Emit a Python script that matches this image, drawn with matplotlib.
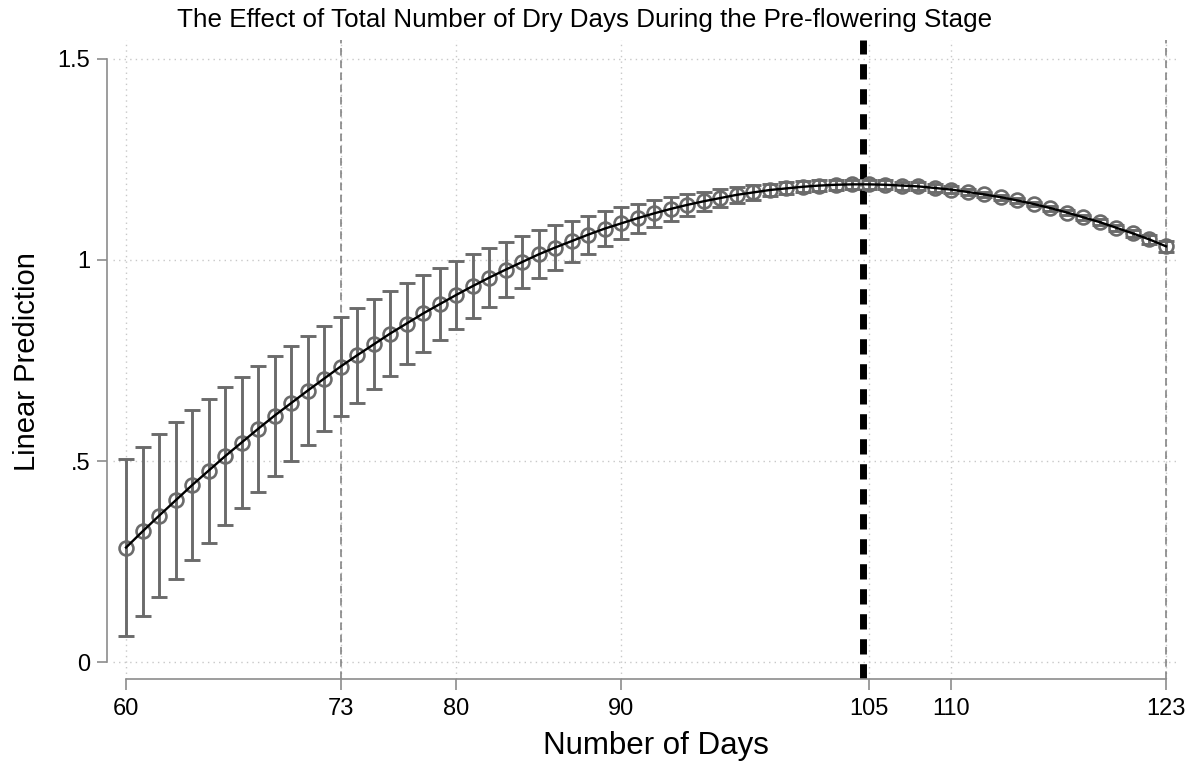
import numpy as np
import matplotlib
matplotlib.use("Agg")
import matplotlib.pyplot as plt

plt.rcParams['font.family'] = ['Liberation Sans', 'DejaVu Sans']

# Margins at each day of dry spell (pre-flowering stage)
days = list(range(60, 124))
pred = [0.285, 0.325, 0.364, 0.402, 0.440, 0.476, 0.512, 0.546, 0.580, 0.613,
        0.644, 0.675, 0.705, 0.735, 0.763, 0.790, 0.817, 0.842, 0.867, 0.890,
        0.913, 0.935, 0.956, 0.976, 0.995, 1.014, 1.031, 1.047, 1.063, 1.078,
        1.091, 1.104, 1.116, 1.127, 1.137, 1.146, 1.154, 1.162, 1.168, 1.174,
        1.178, 1.182, 1.185, 1.187, 1.188, 1.188, 1.187, 1.185, 1.183, 1.179,
        1.175, 1.169, 1.163, 1.156, 1.148, 1.139, 1.129, 1.118, 1.106, 1.094,
        1.080, 1.066, 1.051, 1.034]
# half width of the 95% CI
ci = [0.220, 0.211, 0.203, 0.195, 0.187, 0.179, 0.171, 0.164, 0.156, 0.149,
      0.143, 0.136, 0.130, 0.124, 0.118, 0.112, 0.106, 0.100, 0.095, 0.089,
      0.084, 0.079, 0.074, 0.069, 0.064, 0.060, 0.055, 0.051, 0.047, 0.043,
      0.040, 0.036, 0.033, 0.030, 0.027, 0.024, 0.022, 0.020, 0.018, 0.016,
      0.015, 0.014, 0.013, 0.012, 0.012, 0.011, 0.011, 0.010, 0.010, 0.009,
      0.008, 0.007, 0.007, 0.006, 0.006, 0.006, 0.006, 0.006, 0.007, 0.007,
      0.008, 0.009, 0.011, 0.013]

xticks = [60, 73, 80, 90, 105, 110, 123]
yticks = [0, 0.5, 1, 1.5]
ytick_labels = ["0", ".5", "1", "1.5"]
ref_lines = [73, 123]
turning_point = 104.65

W, H = 1189, 765
fig = plt.figure(figsize=(W / 100, H / 100), dpi=100)
ax = fig.add_axes([113 / W, 1 - 679 / H, (1178 - 113) / W, (679 - 40) / H])

gray = "#6b6b6b"

# grid
for x in xticks:
    ax.axvline(x, color="#c8c8c8", lw=1, ls=(0, (1, 3)), zorder=0)
for y in yticks:
    ax.axhline(y, color="#c8c8c8", lw=1, ls=(0, (1, 3)), zorder=0)

for x in ref_lines:
    ax.axvline(x, color="#7a7a7a", lw=1.1, ls=(0, (5, 3)), zorder=1)
ax.axvline(turning_point, color="black", lw=5, ls=(0, (2.2, 1.4)), zorder=1)

ax.errorbar(days, pred, yerr=ci, fmt="none", ecolor=gray, elinewidth=2.1,
            capsize=5.5, capthick=2.1, zorder=2)
ax.plot(days, pred, ls="none", marker="o", ms=10, mfc="none", mec=gray,
        mew=1.9, zorder=3)
ax.plot(days, pred, color="black", lw=1.7, zorder=4)

ax.set_xlim(59.21, 123.73)
ax.set_ylim(-0.042, 1.547)

for s in ["top", "right"]:
    ax.spines[s].set_visible(False)
for s in ["left", "bottom"]:
    ax.spines[s].set_color("#8c8c8c")
    ax.spines[s].set_linewidth(1.2)
ax.spines["left"].set_position(("outward", 4.3))
ax.spines["left"].set_bounds(0, 1.5)
ax.spines["bottom"].set_bounds(60, 123)

ax.set_xticks(xticks)
ax.set_yticks(yticks)
ax.set_yticklabels(ytick_labels)
ax.tick_params(axis="both", colors="#8c8c8c", labelcolor="black",
               labelsize=17, width=1.2)
ax.tick_params(axis="y", length=7, pad=5)
ax.tick_params(axis="x", length=8, pad=6)

fig.text(585 / W, 1 - 20 / H, "The Effect of Total Number of Dry Days During the Pre-flowering Stage",
         ha="center", va="center", fontsize=18.7)
fig.text(656 / W, 1 - 746 / H, "Number of Days", ha="center", va="center", fontsize=22.5)
fig.text(27 / W, 1 - 362 / H, "Linear Prediction", ha="center", va="center",
         rotation=90, fontsize=21)

fig.savefig("out.png", dpi=100)
